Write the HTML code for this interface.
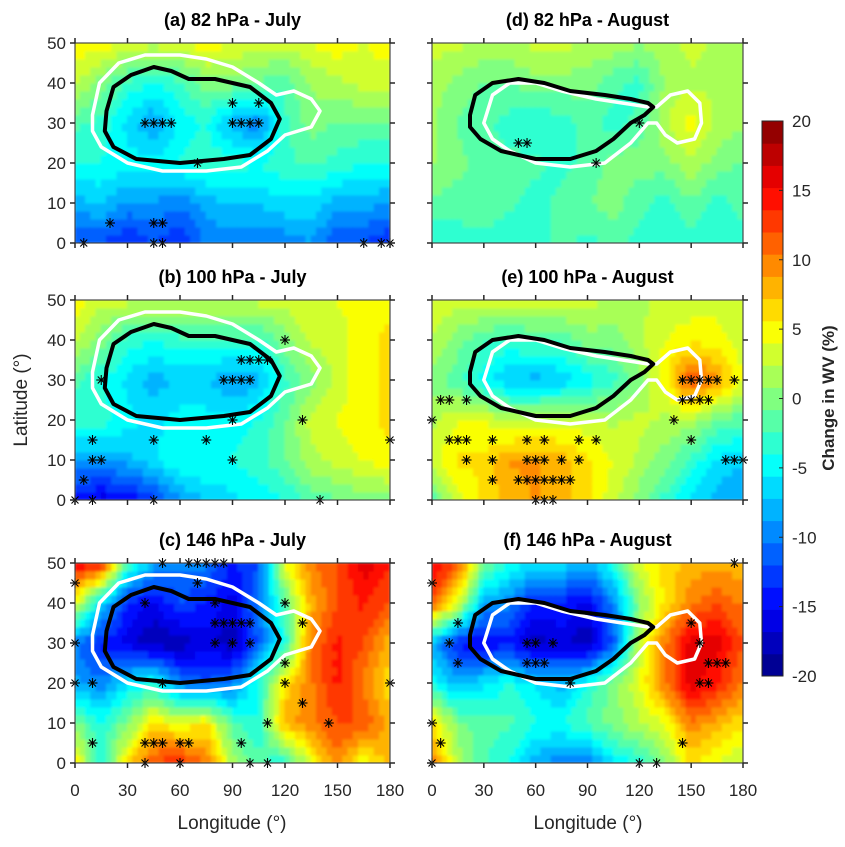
<!DOCTYPE html>
<html><head><meta charset="utf-8">
<style>
body{margin:0;background:#fff;font-family:"Liberation Sans",sans-serif;}
svg text{font-family:"Liberation Sans",sans-serif;}
</style></head>
<body>
<svg id="fig" width="845" height="842" viewBox="0 0 845 842" xmlns="http://www.w3.org/2000/svg">
<defs><filter id="soft" x="0" y="0" width="1" height="1"><feGaussianBlur stdDeviation="1.2"/></filter>
<clipPath id="c0"><rect x="75" y="43" width="315" height="200"/></clipPath>
<clipPath id="c1"><rect x="75" y="300" width="315" height="200"/></clipPath>
<clipPath id="c2"><rect x="75" y="563" width="315" height="200"/></clipPath>
<clipPath id="c3"><rect x="432" y="43" width="311" height="200"/></clipPath>
<clipPath id="c4"><rect x="432" y="300" width="311" height="200"/></clipPath>
<clipPath id="c5"><rect x="432" y="563" width="311" height="200"/></clipPath>
</defs>
</svg>
<script>
// grid: lon 0..180 step 15, lat rows 0,10,20,30,40,50
const lonGrid=[0,15,30,45,60,75,90,105,120,135,150,165,180];
const latGrid=[0,10,20,30,40,50];
const gridA=[[-12,-12,-14,-12,-14,-10,-10,-10,-10,-9,-12,-12,-14],[-8,-7,-9,-9,-10,-8,-7,-7,-6,-6,-8,-8,-9],[-4,-4,-5,-5,-4,-3,-3,-4,-3,-2,-3,-4,-4],[-2,-3,-6,-9,-5,-4,-8,-10,-3,0,-1,-1,-1],[3,0,-3,-4,-3,0,0,-1,-2,1,2,3,3],[5,5,4,3,4,5,4,3,3,4,5,4,5]];
const gridB=[[-14,-16,-15,-13,-9,-7,-6,-5,-4,-2,-1,0,0],[-9,-9,-8,-6,-4,-4,-4,-3,-1,2,3,4,5],[-3,-3,-5,-6,-5,-5,-5,-4,-1,3,4,5,6],[-2,-4,-6,-8,-7,-7,-9,-8,-3,0,3,5,6],[3,0,-3,-4,-3,-3,-3,-3,0,3,3,5,6],[5,3,3,3,3,3,3,3,3,4,4,5,5]];
const gridC=[[6,-4,6,12,14,10,2,-2,-4,4,10,4,8],[0,-4,0,6,4,6,-2,-4,8,10,12,12,8],[-8,-10,-6,-4,-10,-12,-10,-4,6,10,14,10,6],[-10,-14,-16,-18,-18,-16,-18,-12,-4,10,14,12,8],[4,-6,-14,-16,-12,-14,-16,-10,-2,8,12,14,12],[16,14,-2,-8,-10,-10,-14,-12,4,10,12,16,14]];
const gridD=[[-4,-3,-3,-4,-3,-2,-3,-2,-3,-4,-3,-4,-3],[-1,-2,-1,-2,-3,-2,-1,0,-2,-3,-1,-3,-2],[1,0,-2,-2,-2,-3,-2,0,0,0,2,0,-1],[1,-1,-2,-3,-4,-3,-2,-3,-2,2,5,2,1],[2,0,-1,-1,0,0,0,-2,-3,1,2,2,2],[3,3,2,2,3,3,2,2,1,2,3,2,2]];
const gridE=[[-2,3,6,8,9,8,6,3,0,-3,-6,-8,-9],[3,6,6,9,9,8,6,4,2,0,-3,-6,-7],[2,4,4,2,3,3,3,2,3,2,2,-1,-2],[0,-2,-5,-7,-8,-7,-5,-3,0,5,12,9,4],[2,0,-2,-3,-2,-2,0,0,2,4,5,5,3],[4,3,3,3,3,3,3,2,2,3,3,3,3]];
const gridF=[[10,2,-2,-4,-8,-10,-10,-6,-4,0,6,4,2],[6,0,-2,-2,-4,-4,-2,0,2,4,10,8,6],[-4,-8,-6,-4,-6,-8,-4,0,4,10,16,14,10],[-8,-14,-16,-14,-18,-16,-18,-12,2,10,16,16,12],[12,4,-8,-10,-14,-14,-16,-10,0,6,10,12,10],[16,12,0,-4,-6,-6,-8,-4,4,6,8,8,8]];
const julBlack=[[18,33],[22,39],[32,42],[45,44],[55,43],[65,41],[80,41],[100,39],[112,35],[117,31],[112,26],[100,22],[85,21],[60,20],[35,21],[22,24],[17,28],[18,33]];
const julWhite=[[10,32],[14,40],[25,45],[40,47],[60,47],[75,46],[90,44],[105,40],[115,37],[125,38],[135,36],[140,33],[135,29],[120,27],[110,23],[95,19],[75,18],[50,18],[30,20],[15,24],[10,28],[10,32]];
const augBlack=[[22,32],[25,37],[35,40],[50,41],[65,40],[80,38],[100,37],[115,36],[125,35],[128,34],[123,32],[115,30],[105,26],[95,23],[80,21],[60,21],[40,23],[28,26],[22,29],[22,32]];
const augWhite=[[30,30],[35,37],[45,40],[60,40],[75,38],[95,36],[110,35],[125,34],[130,34],[138,37],[148,38],[155,35],[156,30],[152,26],[142,25],[135,27],[130,30],[125,30],[115,25],[100,20],[80,19],[60,20],[45,23],[35,26],[30,30]];
const starsA=[[90,35],[105,35],[40,30],[45,30],[50,30],[55,30],[90,30],[95,30],[100,30],[105,30],[70,20],[20,5],[45,5],[50,5],[45,0],[50,0],[5,0],[165,0],[175,0],[180,0]];
const starsB=[[95,35],[100,35],[105,35],[110,35],[15,30],[85,30],[90,30],[95,30],[100,30],[120,40],[90,20],[130,20],[10,15],[45,15],[75,15],[180,15],[10,10],[15,10],[90,10],[5,5],[0,0],[10,0],[45,0],[140,0]];
const starsC=[[50,50],[65,50],[70,50],[75,50],[80,50],[85,50],[0,45],[70,45],[40,40],[80,40],[120,40],[80,35],[85,35],[90,35],[95,35],[100,35],[130,35],[0,30],[80,30],[90,30],[100,30],[120,25],[0,20],[10,20],[50,20],[120,20],[180,20],[130,15],[110,10],[145,10],[10,5],[40,5],[45,5],[50,5],[60,5],[65,5],[95,5],[40,0],[60,0],[100,0],[110,0]];
const starsD=[[50,25],[55,25],[95,20],[120,30]];
const starsE=[[145,30],[150,30],[155,30],[160,30],[165,30],[175,30],[145,25],[150,25],[155,25],[160,25],[5,25],[10,25],[20,25],[140,20],[0,20],[10,15],[15,15],[20,15],[35,15],[55,15],[65,15],[85,15],[95,15],[150,15],[20,10],[35,10],[55,10],[60,10],[65,10],[75,10],[85,10],[170,10],[175,10],[180,10],[35,5],[50,5],[55,5],[60,5],[65,5],[70,5],[75,5],[80,5],[60,0],[65,0],[70,0]];
const starsF=[[0,45],[15,35],[10,30],[15,25],[55,30],[60,30],[70,30],[55,25],[60,25],[65,25],[80,20],[150,35],[155,30],[160,25],[165,25],[170,25],[155,20],[160,20],[175,50],[0,10],[5,5],[145,5],[120,0],[130,0],[0,0]];
const cbTicks=[20,15,10,5,0,-5,-10,-15,-20];
const yTicks=[0,10,20,30,40,50];
const xTicks=[0,30,60,90,120,150,180];
const titles=["(a) 82 hPa - July","(b) 100 hPa - July","(c) 146 hPa - July","(d) 82 hPa - August","(e) 100 hPa - August","(f) 146 hPa - August"];

const NS="http://www.w3.org/2000/svg";
const svg=document.getElementById('fig');
function mk(tag,attrs,parent){const e=document.createElementNS(NS,tag);for(const k in attrs)e.setAttribute(k,attrs[k]);(parent||svg).appendChild(e);return e;}
function jet(v){let t=Math.max(0,Math.min(0.9999,(v+20)/40));t=(Math.floor(t*25)+0.5)/25;const cl=x=>Math.round(255*Math.max(0,Math.min(1,x)));
 return `rgb(${cl(1.5-Math.abs(4*t-3))},${cl(1.5-Math.abs(4*t-2))},${cl(1.5-Math.abs(4*t-1))})`;}
function interp(g,lon,lat){const i=Math.min(11,Math.floor(lon/15)),j=Math.min(4,Math.floor(lat/10));const fx=(lon-i*15)/15,fy=(lat-j*10)/10;
 return g[j][i]*(1-fx)*(1-fy)+g[j][i+1]*fx*(1-fy)+g[j+1][i]*(1-fx)*fy+g[j+1][i+1]*fx*fy;}

const panels=[
 {x0:75,w:315,y0:43,g:gridA,bl:julBlack,wh:julWhite,st:starsA},
 {x0:75,w:315,y0:300,g:gridB,bl:julBlack,wh:julWhite,st:starsB},
 {x0:75,w:315,y0:563,g:gridC,bl:julBlack,wh:julWhite,st:starsC},
 {x0:432,w:311,y0:43,g:gridD,bl:augBlack,wh:augWhite,st:starsD},
 {x0:432,w:311,y0:300,g:gridE,bl:augBlack,wh:augWhite,st:starsE},
 {x0:432,w:311,y0:563,g:gridF,bl:augBlack,wh:augWhite,st:starsF}];
panels.forEach((p,k)=>{
 const H=200;const X=lon=>p.x0+lon/180*p.w;const Y=lat=>p.y0+H-lat/50*H;
 const grp=mk('g',{'clip-path':`url(#c${k})`});
 
 
 const cells=mk('g',{filter:'url(#soft)'},grp);
 
 
 for(let lon=0;lon<180;lon+=3)for(let lat=0;lat<50;lat+=2){
  const v=interp(p.g,lon+1.5,lat+1);
  const r=mk('rect',{x:X(lon)-0.5,y:Y(lat+2)-0.5,width:X(lon+3)-X(lon)+1,height:Y(lat)-Y(lat+2)+1,fill:jet(v)},cells);
  
  
 }
 const ptsStr=a=>a.map(q=>X(q[0]).toFixed(1)+','+Y(q[1]).toFixed(1)).join(' ');
 const w=mk('polygon',{points:ptsStr(p.wh),fill:'none',stroke:'#fff','stroke-width':3.5,'stroke-linejoin':'round'},grp);
 
 
 const b=mk('polygon',{points:ptsStr(p.bl),fill:'none',stroke:'#000','stroke-width':4,'stroke-linejoin':'round'},grp);
 
 
 p.st.forEach(s=>{const cx=X(s[0]),cy=Y(s[1]);
  const g=mk('g',{stroke:'#000','stroke-width':1.1});
  
  
  const r=5;
  mk('line',{x1:cx-r,x2:cx+r,y1:cy,y2:cy},g);
  mk('line',{x1:cx,x2:cx,y1:cy-r,y2:cy+r},g);
  mk('line',{x1:cx-r*0.7,x2:cx+r*0.7,y1:cy-r*0.7,y2:cy+r*0.7},g);
  mk('line',{x1:cx-r*0.7,x2:cx+r*0.7,y1:cy+r*0.7,y2:cy-r*0.7},g);});
 const f=mk('rect',{x:p.x0,y:p.y0,width:p.w,height:H,fill:'none',stroke:'#262626','stroke-width':1});
 
 
 yTicks.forEach(t=>{mk('line',{x1:p.x0-5,x2:p.x0,y1:Y(t),y2:Y(t),stroke:'#262626','stroke-width':1.5});
  mk('line',{x1:p.x0+p.w,x2:p.x0+p.w+5,y1:Y(t),y2:Y(t),stroke:'#262626','stroke-width':1.5});
  if(k<3){const tx=mk('text',{x:p.x0-9,y:Y(t)+6,'font-size':17,'text-anchor':'end',fill:'#262626'});tx.textContent=t;
  
  }});
 xTicks.forEach(t=>{mk('line',{x1:X(t),x2:X(t),y1:p.y0-5,y2:p.y0,stroke:'#262626','stroke-width':1.5});
  mk('line',{x1:X(t),x2:X(t),y1:p.y0+H,y2:p.y0+H+5,stroke:'#262626','stroke-width':1.5});
  if(k%3==2){const tx=mk('text',{x:X(t),y:796,'font-size':17,'text-anchor':'middle',fill:'#262626'});tx.textContent=t;
  
  }});
 const tt=mk('text',{x:p.x0+p.w/2,y:p.y0-17,'font-size':18,'font-weight':'bold','text-anchor':'middle',fill:'#000'});tt.textContent=titles[k];
 
 
});
[[232],[588]].forEach(c=>{const t=mk('text',{x:c[0],y:829,'font-size':19,'text-anchor':'middle',fill:'#262626'});t.textContent='Longitude (°)';
 
 });
const yl=mk('text',{x:0,y:0,'font-size':19,'text-anchor':'middle',fill:'#262626',transform:'translate(27,400) rotate(-90)'});yl.textContent='Latitude (°)';


const cbX=762,cbW=21,cbT=121,cbB=676;const CY=v=>cbB-(v+20)/40*(cbB-cbT);
const cb=mk('g',{});


for(let i=0;i<25;i++){const v0=-20+i*1.6;mk('rect',{x:cbX,y:CY(v0+1.6),width:cbW,height:CY(v0)-CY(v0+1.6)+0.5,fill:jet(v0+0.8)},cb);}
mk('rect',{x:cbX,y:cbT,width:cbW,height:cbB-cbT,fill:'none',stroke:'#262626','stroke-width':1},cb);
cbTicks.forEach(v=>{mk('line',{x1:cbX+cbW-4,x2:cbX+cbW,y1:CY(v),y2:CY(v),stroke:'#262626'},cb);
 const t=mk('text',{x:792,y:CY(v)+6,'font-size':17,fill:'#262626'},cb);t.textContent=v;
 
 });
const cl=mk('text',{x:0,y:0,'font-size':17,'font-weight':'bold','text-anchor':'middle',fill:'#262626',transform:'translate(834,398) rotate(-90)'});cl.textContent='Change in WV (%)';


</script>
</body></html>
